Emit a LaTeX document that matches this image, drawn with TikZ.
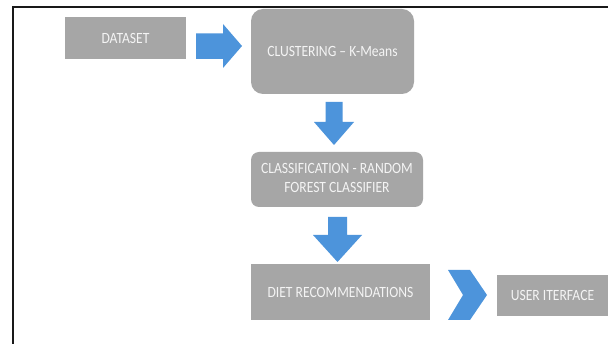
\documentclass[tikz,border=0pt]{standalone}
\usepackage{fontspec}
\setmainfont{Carlito}
\definecolor{boxgray}{HTML}{A6A6A6}
\definecolor{arrowblue}{HTML}{4D94DB}
\definecolor{txtwhite}{HTML}{F4F4F4}
\newcommand{\vtxt}[1]{\scalebox{1}[1.15]{#1}}
\begin{document}
\begin{tikzpicture}[x=1pt,y=-1pt,
  box/.style={fill=boxgray,draw=none,inner sep=0pt,text=txtwhite,
    font=\fontsize{13.6}{16.5}\selectfont},
  rbox/.style={box,rounded corners=#1},
  blockarrow/.style={fill=arrowblue,draw=none}]
\useasboundingbox (0,0) rectangle (608,344);
\fill[white] (0,0) rectangle (608,344);
\draw[line width=2pt,black!90] (13,345) -- (13,7) -- (609,7);

\node[box,minimum width=121pt,minimum height=42pt] (data) at (125.5,38) {\vtxt{DATASET}};
\node[rbox=12pt,minimum width=163pt,minimum height=85pt] (clust) at (332.5,51.5) {\raisebox{-1pt}{\vtxt{CLUSTERING – K-Means}}};
\node[rbox=8pt,minimum width=172pt,minimum height=55pt] (class) at (337,179.5)
  {\raisebox{-2.5pt}{\vtxt{\begin{tabular}{@{}c@{}}CLASSIFICATION - RANDOM\\FOREST CLASSIFIER\end{tabular}}}};
\node[box,minimum width=179pt,minimum height=56pt] (diet) at (340.5,292) {\vtxt{DIET RECOMMENDATIONS}};
\node[box,minimum width=111pt,minimum height=41pt] (ui) at (552.5,295.5) {\vtxt{USER ITERFACE}};

% block arrows
\fill[blockarrow] (196,33.5) -- (223,33.5) -- (223,24) -- (242,46) -- (223,68) -- (223,59) -- (196,59) -- cycle;
\fill[blockarrow] (325.5,102) -- (342.5,102) -- (342.5,122) -- (354,122) -- (334,145) -- (314,122) -- (325.5,122) -- cycle;
\fill[blockarrow] (328,217) -- (347,217) -- (347,235) -- (362,235) -- (337.5,262) -- (313,235) -- (328,235) -- cycle;
\fill[blockarrow] (448,270) -- (470,270) -- (487,295) -- (470,320) -- (448,320) -- (463,295) -- cycle;
\end{tikzpicture}
\end{document}
